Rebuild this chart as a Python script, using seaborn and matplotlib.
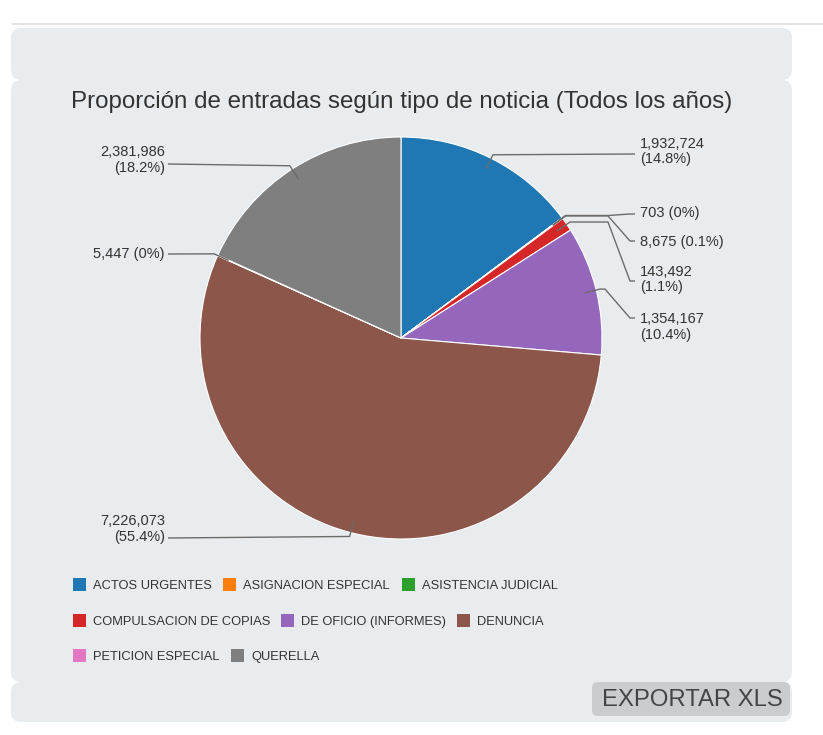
import numpy as np
import matplotlib
matplotlib.use("Agg")
import matplotlib.pyplot as plt
from matplotlib.patches import FancyBboxPatch, Rectangle
import seaborn as sns

# ---- data ----
categories = ["ACTOS URGENTES", "ASIGNACION ESPECIAL", "ASISTENCIA JUDICIAL",
              "COMPULSACION DE COPIAS", "DE OFICIO (INFORMES)", "DENUNCIA",
              "PETICION ESPECIAL", "QUERELLA"]
values = [1932724, 703, 8675, 143492, 1354167, 7226073, 5447, 2381986]
title = "Proporción de entradas según tipo de noticia (Todos los años)"
button_text = "EXPORTAR XLS"

sns.set_theme(style="white")
plt.rcParams["font.family"] = ["Liberation Sans", "DejaVu Sans"]
colors = sns.color_palette("tab10", len(categories))

W, H = 823, 735
fig = plt.figure(figsize=(W / 100, H / 100), dpi=100, facecolor="white")
ax = fig.add_axes([0, 0, 1, 1])

PANEL = "#e9ecee"
TEXT = "#333333"

# page separator and card panels (pixel coordinates, y downward)
ax.plot([12, W], [24, 24], color="#e2e2e2", lw=1.3, zorder=0)
for y0, y1 in [(28, 80), (80, 682), (682, 722)]:
    ax.add_patch(FancyBboxPatch((11, y0), 781, y1 - y0,
                                boxstyle="round,pad=0,rounding_size=10",
                                fc=PANEL, ec="none", zorder=0))

# ---- pie ----
cx, cy, R = 401, 338, 201
wedges, _ = ax.pie(values, colors=colors, startangle=-90, counterclock=True,
                   radius=R, center=(cx, cy), frame=False,
                   wedgeprops=dict(edgecolor="white", linewidth=0.8))

ax.set_xlim(0, W)
ax.set_ylim(H, 0)
ax.set_aspect("auto")
ax.axis("off")

ax.text(402, 102, title, ha="center", va="center", fontsize=17.4, color=TEXT)

# ---- data labels with connectors ----
total = float(sum(values))
fracs = np.array(values) / total
mids = np.cumsum(fracs) - fracs / 2


def pct_text(v):
    p = round(100 * v / total, 1)
    return f"{p:g}%"


# label anchor: (x, y of text block centre, y where connector ends, elbow x)
label_layout = [
    (640, 151.5, 154, None),
    (640, 213, 214, 608),
    (640, 242, 241, 608),
    (640, 279.5, 281, 608),
    (640, 327, 318, 605),
    (165, 529, 538, None),
    (165, 254, 254, None),
    (165, 160, 164, None),
]

for i, v in enumerate(values):
    ang = 2 * np.pi * mids[i]
    ux, uy = np.sin(ang), -np.cos(ang)
    p0 = (cx + (R - 12) * ux, cy + (R - 12) * uy)
    p1 = (cx + (R + 4) * ux, cy + (R + 4) * uy)
    lx, ly, yend, ex = label_layout[i]
    right = lx > cx
    xs, ys = [p0[0], p1[0]], [p0[1], p1[1]]
    if ex is not None:
        xs.append(ex)
        ys.append(p1[1])
        xs.append(lx - 10 if right else lx + 10)
        ys.append(yend)
    xs.append(lx - 5 if right else lx + 3)
    ys.append(yend)
    ax.plot(xs, ys, color="#6b6b6b", lw=1.0, zorder=3, solid_capstyle="butt")

    sep = "\n" if v >= 100000 else " "
    txt = f"{v:,}{sep}({pct_text(v)})"
    ax.text(lx, ly, txt, ha="left" if right else "right", va="center",
            multialignment="left" if right else "right",
            fontsize=10.5, color=TEXT, linespacing=1.12, zorder=4)

# ---- legend (flow layout, three rows) ----
legend_layout = [
    (73, 584), (223, 584), (402, 584),
    (73, 620), (281, 620), (457, 620),
    (73, 655), (231, 655),
]
for i, name in enumerate(categories):
    x, y = legend_layout[i]
    ax.add_patch(Rectangle((x, y - 6.5), 13, 13, fc=colors[i], ec="none", zorder=3))
    ax.text(x + 20, y + 4.6, name, ha="left", va="baseline", fontsize=9.3,
            color=TEXT, zorder=4)

# ---- export button ----
ax.add_patch(FancyBboxPatch((592, 682), 198, 34,
                            boxstyle="round,pad=0,rounding_size=6",
                            fc="#cacccd", ec="none", zorder=2))
ax.text(692, 699.5, button_text, ha="center", va="center", fontsize=17.2,
        color="#444444", zorder=4)

fig.savefig("out.png", dpi=100, facecolor="white")
